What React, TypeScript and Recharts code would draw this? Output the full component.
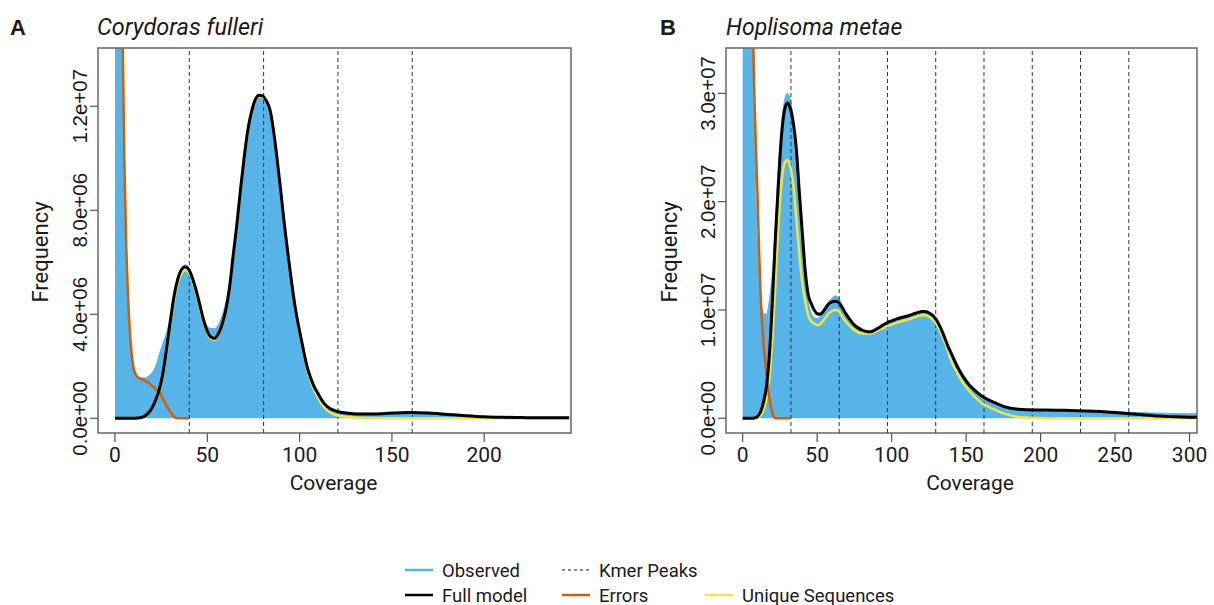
import React from "react";
import { Area, ComposedChart, Line, ReferenceArea, ReferenceLine, XAxis, YAxis } from "recharts";

const BLUE = "#56B4E9";
const ORANGE = "#D55E00";
const YELLOW = "#F0E442";
const INK = "#1a1a1a";

// ---- Panel A: Corydoras fulleri (frequencies in millions) ----
const coverageA = [
  0, 1, 2, 3, 4, 5, 6, 7, 8, 9, 10, 11, 12,
  14, 16, 18, 20, 22, 24, 26, 28, 30, 32, 34, 36, 38, 40,
  42, 44, 46, 48, 50, 52, 54, 56, 58, 60, 62, 64, 66, 68,
  70, 72, 74, 76, 78, 80, 82, 84, 86, 88, 90, 92, 94, 96,
  98, 100, 102, 104, 106, 108, 110, 112, 114, 116, 118, 120,
  125, 130,
  140, 150, 160, 170, 180, 190, 200, 210, 220, 230, 240,
  246,
];
const observedA = [
  90, 60, 38, 20, 12.5, 8.6, 6.1, 4.4, 3.2, 2.45, 2.0, 1.75, 1.62,
  1.55, 1.55, 1.62, 1.75, 2.0, 2.45, 2.9, 3.3, 3.9, 4.7, 5.35, 5.75, 5.9, 5.8,
  5.45, 4.95, 4.4, 3.85, 3.55, 3.45, 3.45, 3.6, 3.95, 4.45, 5.2, 6.3, 7.5, 8.85,
  10.1, 11.1, 11.8, 12.25, 12.45, 12.4, 12.2, 11.85, 11.0, 9.85, 8.6, 7.3, 6.15, 5.05,
  4.1, 3.35, 2.65, 2.0, 1.55, 1.2, 0.95, 0.72, 0.54, 0.43, 0.35, 0.3,
  0.23, 0.2,
  0.19, 0.21, 0.22, 0.2, 0.15, 0.1, 0.07, 0.05, 0.04, 0.03, 0.03,
  0.03,
];
const fullModelA = [
  0, 0, 0, 0, 0, 0, 0, 0, 0, 0, 0, 0, 0.01,
  0.03, 0.08, 0.2, 0.4, 0.7, 1.1, 1.75, 2.7, 3.75, 4.7, 5.35, 5.72, 5.83, 5.72,
  5.38, 4.92, 4.35, 3.78, 3.35, 3.12, 3.08, 3.25, 3.6, 4.15, 5.0, 6.25, 7.45, 8.8,
  10.05, 11.1, 11.8, 12.25, 12.42, 12.4, 12.2, 11.85, 11.0, 9.85, 8.6, 7.3, 6.15, 5.05,
  4.1, 3.35, 2.65, 2.0, 1.55, 1.2, 0.95, 0.7, 0.52, 0.4, 0.32, 0.27,
  0.2, 0.17,
  0.17, 0.2, 0.22, 0.2, 0.15, 0.1, 0.06, 0.04, 0.03, 0.02, 0.02,
  0.02,
];
const uniqueA = [
  0, 0, 0, 0, 0, 0, 0, 0, 0, 0, 0, 0, 0.01,
  0.03, 0.08, 0.19, 0.38, 0.67, 1.05, 1.68, 2.6, 3.62, 4.55, 5.2, 5.57, 5.7, 5.6,
  5.27, 4.82, 4.25, 3.7, 3.28, 3.06, 3.02, 3.2, 3.55, 4.1, 4.95, 6.2, 7.4, 8.75,
  10.0, 11.05, 11.75, 12.2, 12.37, 12.35, 12.15, 11.8, 10.95, 9.8, 8.55, 7.25, 6.1, 5.0,
  4.03, 3.27, 2.56, 1.9, 1.42, 1.06, 0.8, 0.55, 0.37, 0.25, 0.17, 0.12,
  0.06, 0.03,
  0.01, 0, 0, 0, 0, 0, 0, 0, 0, 0, 0,
  0,
];
// errors are only drawn up to the first kmer peak
const errorsA = [
  70, 48, 33, 23, 15.5, 10.2, 6.9, 4.8, 3.4, 2.5, 1.95, 1.72, 1.6,
  1.52, 1.46, 1.38, 1.25, 1.12, 1.02, 0.75, 0.47, 0.25, 0.06, 0, 0, 0, 0,
];
const kmerPeaksA = [40.25, 80.5, 120.75, 161];
const xTicksA = [0, 50, 100, 150, 200];
const yTicksA = [0, 4, 8, 12];
const yTickLabelsA = ["0.0e+00", "4.0e+06", "8.0e+06", "1.2e+07"];

// ---- Panel B: Hoplisoma metae (frequencies in millions) ----
const coverageB = [
  0, 1, 2, 3, 4, 5, 6, 7, 8, 9, 10, 11, 12,
  14, 16, 18, 20, 22, 24, 26, 28, 30, 32, 34, 36, 38, 40,
  42, 44, 46, 48, 50, 52, 54, 56, 58, 60, 62, 64, 66, 68,
  70, 72, 74, 76, 78, 80, 82, 84, 86, 88, 90, 92, 94, 96,
  98, 100, 102, 104, 106, 108, 110, 112, 114, 116, 118, 120, 122, 124,
  126, 128, 130, 132, 134, 136, 138, 140,
  144, 148, 152, 156, 160,
  165, 170, 175, 180, 185, 190,
  200, 210, 220, 230, 240, 250, 260, 270, 280, 290, 300,
  305,
];
const observedB = [
  220, 170, 130, 98, 75, 58, 45, 33, 26, 20, 15.5, 12.5, 11,
  9.7, 9.6, 11.0, 13.5, 18.0, 23.0, 27.0, 29.3, 30.0, 29.4, 27.6, 24.8, 21.0, 17.0,
  13.2, 10.8, 9.7, 9.3, 9.2, 9.4, 9.8, 10.3, 10.8, 11.1, 11.3, 11.2, 10.7, 10.0,
  9.5, 9.1, 8.8, 8.5, 8.3, 8.15, 8.05, 8.0, 8.0, 8.1, 8.25, 8.4, 8.6, 8.75,
  8.9, 9.0, 9.1, 9.2, 9.3, 9.4, 9.45, 9.55, 9.65, 9.75, 9.85, 9.95, 9.95, 9.9,
  9.75, 9.5, 9.1, 8.6, 8.0, 7.3, 6.6, 6.0,
  4.8, 3.85, 3.1, 2.55, 2.15,
  1.75, 1.45, 1.2, 1.0, 0.9, 0.85,
  0.8, 0.78, 0.75, 0.7, 0.65, 0.6, 0.55, 0.5, 0.47, 0.44, 0.42,
  0.42,
];
const fullModelB = [
  0, 0, 0, 0, 0, 0, 0, 0.01, 0.03, 0.08, 0.18, 0.35, 0.6,
  1.5, 3.0, 6.0, 11.0, 16.8, 21.8, 26.0, 28.4, 29.1, 28.6, 27.3, 24.9, 20.9, 17.2,
  13.6, 11.4, 10.6, 10.0, 9.65, 9.6, 9.85, 10.25, 10.6, 10.75, 10.8, 10.75, 10.4, 9.95,
  9.5, 9.1, 8.75, 8.5, 8.3, 8.15, 8.05, 8.0, 8.0, 8.1, 8.25, 8.4, 8.6, 8.75,
  8.9, 9.0, 9.1, 9.2, 9.28, 9.35, 9.42, 9.5, 9.6, 9.7, 9.78, 9.85, 9.87, 9.8,
  9.65, 9.45, 9.08, 8.6, 8.0, 7.3, 6.6, 6.0,
  4.8, 3.85, 3.1, 2.55, 2.1,
  1.7, 1.4, 1.1, 0.92, 0.83, 0.79,
  0.77, 0.75, 0.72, 0.68, 0.62, 0.53, 0.42, 0.3, 0.2, 0.14, 0.1,
  0.09,
];
const uniqueB = [
  0, 0, 0, 0, 0, 0, 0, 0, 0, 0, 0.05, 0.12, 0.25,
  0.8, 1.8, 3.8, 7.5, 12.5, 17.8, 21.6, 23.5, 23.85, 23.2, 21.5, 18.5, 15.2, 12.5,
  10.8, 9.5, 8.95, 8.75, 8.6, 8.7, 9.0, 9.35, 9.7, 9.9, 10.0, 9.95, 9.6, 9.15,
  8.8, 8.5, 8.25, 8.05, 7.9, 7.85, 7.82, 7.82, 7.85, 7.95, 8.05, 8.2, 8.3, 8.42,
  8.55, 8.65, 8.75, 8.85, 8.92, 9.0, 9.07, 9.15, 9.25, 9.35, 9.45, 9.5, 9.52, 9.45,
  9.3, 9.05, 8.7, 8.2, 7.6, 6.9, 6.1, 5.3,
  4.2, 3.25, 2.55, 1.95, 1.45,
  1.05, 0.75, 0.45, 0.25, 0.12, 0.06,
  0.02, 0.01, 0, 0, 0, 0, 0, 0, 0, 0, 0,
  0,
];
const errorsB = [
  150, 120, 95, 77, 62, 51, 42, 35, 29, 24.5, 20.5, 15.5, 11.5,
  6.9, 4.1, 1.8, 0.45, 0, 0, 0, 0, 0, 0,
];
const kmerPeaksB = [32.4, 64.8, 97.2, 129.6, 162, 194.4, 226.8, 259.2];
const xTicksB = [0, 50, 100, 150, 200, 250, 300];
const yTicksB = [0, 10, 20, 30];
const yTickLabelsB = ["0.0e+00", "1.0e+07", "2.0e+07", "3.0e+07"];

const legendItems = [
  { label: "Observed", color: BLUE, dashed: false },
  { label: "Kmer Peaks", color: "#666", dashed: true },
  { label: "Full model", color: "#000", dashed: false },
  { label: "Errors", color: ORANGE, dashed: false },
  { label: "Unique Sequences", color: YELLOW, dashed: false },
];

type Row = { x: number; observed: number; full: number; unique: number; errors: number | null };

function toRows(cov: number[], obs: number[], full: number[], uniq: number[], err: number[]): Row[] {
  return cov.map((x, i) => ({
    x,
    observed: obs[i],
    full: full[i],
    unique: uniq[i],
    errors: i < err.length ? err[i] : null,
  }));
}

function YTick(props: any) {
  const { x, y, payload, labels, ticks } = props;
  const label = labels[ticks.indexOf(payload.value)];
  return (
    <text
      x={x}
      y={y}
      transform={`rotate(-90 ${x} ${y})`}
      textAnchor="middle"
      fontSize={20.5}
      fontFamily="'Liberation Sans', Arial, sans-serif"
      fill={INK}
    >
      {label}
    </text>
  );
}

function KmerPanel(props: {
  rows: Row[];
  xDomain: [number, number];
  xTicks: number[];
  yDomain: [number, number];
  yTicks: number[];
  yLabels: string[];
  peaks: number[];
  width: number;
  yAxisWidth: number;
  marginRight: number;
}) {
  const { rows, xDomain, xTicks, yDomain, yTicks, yLabels, peaks, width, yAxisWidth, marginRight } = props;
  return (
    <ComposedChart
      width={width}
      height={500}
      data={rows}
      margin={{ top: 48, right: marginRight, bottom: 0, left: 0 }}
    >
      <XAxis
        type="number"
        dataKey="x"
        domain={xDomain}
        ticks={xTicks}
        interval={0}
        allowDataOverflow
        axisLine={false}
        tickLine={{ stroke: "#555", strokeWidth: 1.2 }}
        tickSize={9}
        tickMargin={5}
        height={67}
        tick={{ fontSize: 21, fill: INK, fontFamily: "Roboto, sans-serif" }}
      />
      <YAxis
        type="number"
        domain={yDomain}
        ticks={yTicks}
        interval={0}
        allowDataOverflow
        width={yAxisWidth}
        axisLine={false}
        tickLine={{ stroke: "#555", strokeWidth: 1.2 }}
        tickSize={8}
        tickMargin={3}
        tick={<YTick labels={yLabels} ticks={yTicks} />}
      />
      <Area
        dataKey="observed"
        type="monotone"
        fill={BLUE}
        fillOpacity={1}
        stroke={BLUE}
        strokeWidth={1}
        baseValue={0}
        isAnimationActive={false}
      />
      {peaks.map((p) => (
        <ReferenceLine key={p} x={p} stroke="#333" strokeDasharray="4 3" strokeWidth={1} />
      ))}
      <Line dataKey="unique" type="monotone" stroke={YELLOW} strokeWidth={2.5} dot={false} isAnimationActive={false} />
      <Line
        dataKey="errors"
        type="monotone"
        stroke={ORANGE}
        strokeWidth={2.5}
        dot={false}
        connectNulls={false}
        isAnimationActive={false}
      />
      <Line dataKey="full" type="monotone" stroke="#000" strokeWidth={3} dot={false} isAnimationActive={false} />
      <ReferenceArea
        x1={xDomain[0]}
        x2={xDomain[1]}
        y1={yDomain[0]}
        y2={yDomain[1]}
        fill="none"
        stroke="#666"
        strokeWidth={1.5}
        ifOverflow="visible"
      />
    </ComposedChart>
  );
}

function Legend() {
  const cols = [405, 562, 705];
  const rowsY = [570, 595];
  const slots = [
    [0, 0],
    [1, 0],
    [0, 1],
    [1, 1],
    [2, 1],
  ];
  return (
    <g>
      {legendItems.map((item, i) => {
        const x = cols[slots[i][0]];
        const y = rowsY[slots[i][1]];
        return (
          <g key={item.label}>
            <line
              x1={x}
              x2={x + 28}
              y1={y}
              y2={y}
              stroke={item.color}
              strokeWidth={item.dashed ? 1.3 : 2.5}
              strokeDasharray={item.dashed ? "3 3" : undefined}
            />
            <text x={x + 37} y={y + 6.5} fontSize={18.5} fontFamily="Roboto, sans-serif" fill={INK}>
              {item.label}
            </text>
          </g>
        );
      })}
    </g>
  );
}

export default function App() {
  const rowsA = toRows(coverageA, observedA, fullModelA, uniqueA, errorsA);
  const rowsB = toRows(coverageB, observedB, fullModelB, uniqueB, errorsB);
  const font = "Roboto, sans-serif";
  return (
    <div style={{ position: "absolute", left: 0, top: 0, width: 1214, height: 605, background: "#fff", overflow: "hidden" }}>
      <div style={{ position: "absolute", left: 0, top: 0 }}>
        <KmerPanel
          rows={rowsA}
          xDomain={[-9.2, 247]}
          xTicks={xTicksA}
          yDomain={[-0.565, 14.24]}
          yTicks={yTicksA}
          yLabels={yTickLabelsA}
          peaks={kmerPeaksA}
          width={590}
          yAxisWidth={98}
          marginRight={19}
        />
      </div>
      <div style={{ position: "absolute", left: 614, top: 0 }}>
        <KmerPanel
          rows={rowsB}
          xDomain={[-11.2, 305]}
          xTicks={xTicksB}
          yDomain={[-1.36, 34.19]}
          yTicks={yTicksB}
          yLabels={yTickLabelsB}
          peaks={kmerPeaksB}
          width={600}
          yAxisWidth={112}
          marginRight={17}
        />
      </div>
      <svg
        width={1214}
        height={605}
        style={{ position: "absolute", left: 0, top: 0, pointerEvents: "none" }}
      >
        <text x={10} y={35} fontSize={22} fontWeight="bold" fontFamily="'Liberation Sans', Arial, sans-serif" fill={INK}>
          A
        </text>
        <text x={97} y={35} fontSize={23.5} fontStyle="italic" fontFamily={font} fill={INK}>
          Corydoras fulleri
        </text>
        <text x={660} y={35} fontSize={22} fontWeight="bold" fontFamily="'Liberation Sans', Arial, sans-serif" fill={INK}>
          B
        </text>
        <text x={726} y={35} fontSize={23} fontStyle="italic" fontFamily={font} fill={INK}>
          Hoplisoma metae
        </text>
        <text x={333.5} y={490} fontSize={21} textAnchor="middle" fontFamily={font} fill={INK}>
          Coverage
        </text>
        <text x={970} y={490} fontSize={21} textAnchor="middle" fontFamily={font} fill={INK}>
          Coverage
        </text>
        <text x={48} y={252} transform="rotate(-90 48 252)" fontSize={22} textAnchor="middle" fontFamily={font} fill={INK}>
          Frequency
        </text>
        <text x={677} y={252} transform="rotate(-90 677 252)" fontSize={22} textAnchor="middle" fontFamily={font} fill={INK}>
          Frequency
        </text>
        <Legend />
      </svg>
    </div>
  );
}
